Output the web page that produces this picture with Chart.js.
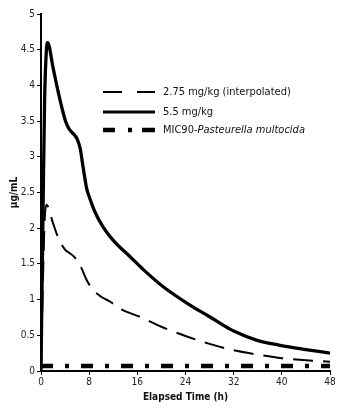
<!DOCTYPE html>
<html><head><meta charset="utf-8">
<script src="https://cdn.jsdelivr.net/npm/chart.js@4/dist/chart.umd.min.js"></script>
<style>html,body{margin:0;padding:0;background:#fff}#wrap{width:350px;height:413px}</style>
</head><body><div id="wrap"><canvas id="c" width="350" height="413"></canvas></div>
<script>
const FONT = '"Liberation Sans Narrow","DejaVu Sans Condensed","Liberation Sans",Arial,sans-serif';
// Elapsed time (h) and concentrations (µg/mL)
const timeLow = [0,0.3,0.6,0.9,2,2.8,4,4.6,5.5,6.5,7.6,8.7,10,11.5,13,14.5,16.4,20,24,28,32,36,40,44,48];
const conc275 = [0,1.2,2.1,2.33,2.07,1.88,1.7,1.66,1.6,1.48,1.27,1.13,1.04,0.97,0.88,0.82,0.76,0.62,0.49,0.38,0.29,0.23,0.18,0.15,0.13];
const timeHigh = [0,0.3,0.6,0.9,1.1,2,2.8,4,4.6,5.6,6,6.5,7,7.6,8.1,9,10.3,12,14.8,17,20.3,24.8,28,30.3,32,35.9,39.7,44,48];
const conc55 = [0,2.0,3.8,4.5,4.6,4.25,3.93,3.52,3.4,3.3,3.25,3.12,2.85,2.55,2.42,2.22,2.02,1.83,1.6,1.42,1.18,0.92,0.76,0.64,0.56,0.43,0.36,0.3,0.25];
const micTime = [0,48];
const mic90 = [0.07,0.07];
const xTicks = [0,8,16,24,32,40,48];
const labels = ['2.75 mg/kg (interpolated)','5.5 mg/kg','MIC90-'];

const toPts = (xs, ys) => xs.map((x,i)=>({x:x,y:ys[i]}));

const styles = [
  {borderDash:[20,10], borderWidth:2},
  {borderDash:[], borderWidth:3.3},
  {borderDash:[12,12,4,12], borderWidth:4.5}
];

const legendPlugin = {
  id:'customLegend',
  afterDraw(chart){
    const ctx = chart.ctx;
    const rows = [92,112,130];
    const dashes = [[19,15,19],[],[12,13,4,10,17]];
    ctx.save();
    rows.forEach((y,i)=>{
      ctx.beginPath();
      ctx.strokeStyle='#000';
      ctx.lineWidth = [2,3,4.5][i];
      ctx.setLineDash(dashes[i]);
      ctx.lineCap='butt';
      ctx.moveTo(103,y); ctx.lineTo(155,y); ctx.stroke();
      ctx.setLineDash([]);
      ctx.fillStyle='#111';
      ctx.textBaseline='middle';
      ctx.font='11px '+FONT;
      ctx.fillText(labels[i],163,y);
      if(i===2){
        const w = ctx.measureText(labels[i]).width;
        ctx.font='italic 11px '+FONT;
        ctx.fillText('Pasteurella multocida',163+w,y);
      }
    });
    ctx.restore();
  }
};

new Chart(document.getElementById('c'),{
  type:'line',
  data:{datasets:[
    {label:labels[0],data:toPts(timeLow,conc275),borderColor:'#000',...styles[0],pointRadius:0,cubicInterpolationMode:'monotone',fill:false},
    {label:labels[1],data:toPts(timeHigh,conc55),borderColor:'#000',...styles[1],pointRadius:0,cubicInterpolationMode:'monotone',fill:false},
    {label:'MIC90-Pasteurella multocida',data:toPts(micTime,mic90),borderColor:'#000',...styles[2],pointRadius:0,tension:0,fill:false,borderCapStyle:'butt'}
  ]},
  options:{
    responsive:false,animation:false,
    layout:{padding:{top:14,right:20,left:0,bottom:10}},
    plugins:{legend:{display:false},tooltip:{enabled:false}},
    scales:{
      x:{type:'linear',min:0,max:48,
        afterBuildTicks(s){s.ticks = xTicks.map(v=>({value:v}));},
        afterFit(s){s.height=32;},
        grid:{drawOnChartArea:false,drawTicks:true,tickLength:4,color:'#000',lineWidth:1},
        border:{display:true,color:'#000',width:2},
        ticks:{color:'#222',font:{family:FONT,size:10},padding:1,maxRotation:0},
        title:{display:true,text:'Elapsed Time (h)',color:'#111',font:{family:FONT,size:10,weight:'bold'},padding:{top:2,bottom:0}}
      },
      y:{min:0,max:5,
        ticks:{stepSize:0.5,color:'#222',font:{family:FONT,size:10},padding:2,callback:v=>String(v)},
        afterFit(s){s.width=41;},
        grid:{drawOnChartArea:false,drawTicks:true,tickLength:4,color:'#000',lineWidth:1},
        border:{display:true,color:'#000',width:2},
        title:{display:true,text:'µg/mL',color:'#111',font:{family:FONT,size:10,weight:'bold'},padding:{top:8,bottom:0}}
      }
    }
  },
  plugins:[legendPlugin]
});
</script></body></html>
